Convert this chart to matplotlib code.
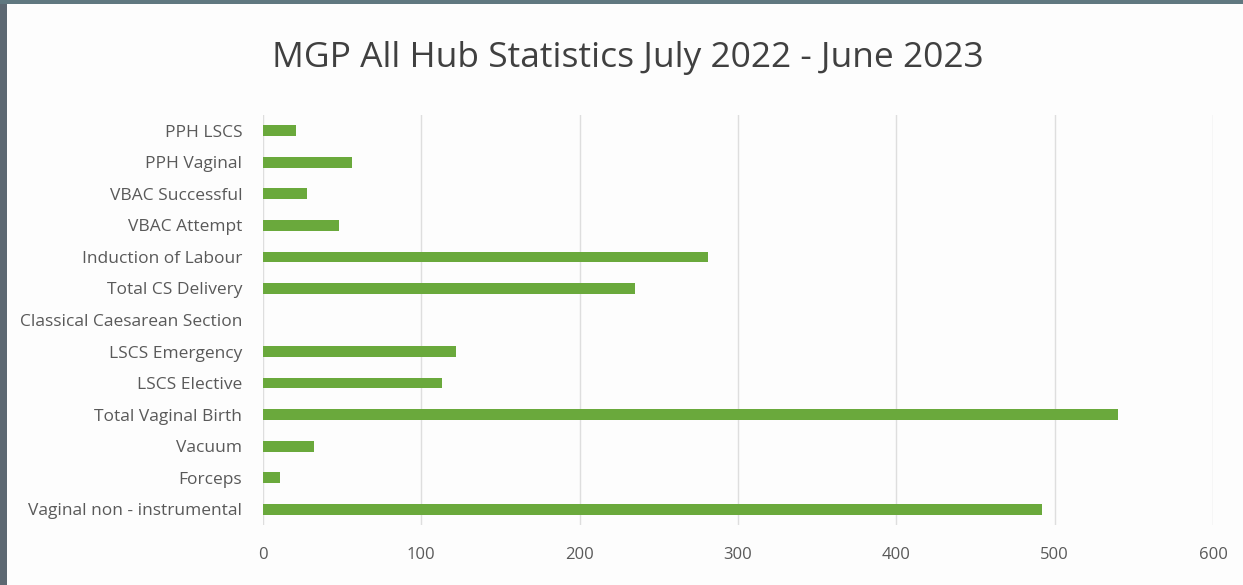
import matplotlib.pyplot as plt
from matplotlib.patches import Rectangle

# MGP hub counts, July 2022 - June 2023 (top to bottom as displayed)
categories = [
    "PPH LSCS",
    "PPH Vaginal",
    "VBAC Successful",
    "VBAC Attempt",
    "Induction of Labour",
    "Total CS Delivery",
    "Classical Caesarean Section",
    "LSCS Emergency",
    "LSCS Elective",
    "Total Vaginal Birth",
    "Vacuum",
    "Forceps",
    "Vaginal non - instrumental",
]
counts = [21, 56, 28, 48, 281, 235, 0, 122, 113, 540, 32, 11, 492]
x_ticks = [0, 100, 200, 300, 400, 500, 600]

plt.rcParams['font.family'] = ['Open Sans', 'DejaVu Sans']

fig = plt.figure(figsize=(12.43, 5.85), dpi=100)
fig.patch.set_facecolor('#fdfdfd')

# slide frame along the left and top edges
fig.patches.append(Rectangle((0, 0), 7 / 1243, 1, transform=fig.transFigure,
                             facecolor='#5d6872', edgecolor='none', zorder=0))
fig.patches.append(Rectangle((0, 1 - 4 / 585), 1, 4 / 585, transform=fig.transFigure,
                             facecolor='#607880', edgecolor='none', zorder=0))

ax = fig.add_axes([263 / 1243, 1 - 525 / 585, 950 / 1243, 410 / 585])
ax.set_facecolor('#fdfdfd')

ypos = list(range(len(categories)))
ax.barh(ypos, counts, height=0.34, color='#6aa93c', zorder=3)

ax.set_ylim(len(categories) - 0.5, -0.5)
ax.set_yticks(ypos)
ax.set_yticklabels(categories, fontsize=12.5, color='#595959')
ax.set_xlim(0, 600)
ax.set_xticks(x_ticks)
ax.set_xticklabels([str(t) for t in x_ticks], fontsize=12, color='#595959')
ax.tick_params(axis='both', length=0)
ax.tick_params(axis='y', pad=15)
ax.tick_params(axis='x', pad=16)

ax.grid(axis='x', color='#dedede', linewidth=1, zorder=0)
for side in ax.spines.values():
    side.set_visible(False)

fig.text(628 / 1243, 1 - 58 / 585, "MGP All Hub Statistics July 2022 - June 2023",
         ha='center', va='center', fontsize=25.5, color='#404040')

fig.savefig('out.png', dpi=100, facecolor=fig.get_facecolor())
